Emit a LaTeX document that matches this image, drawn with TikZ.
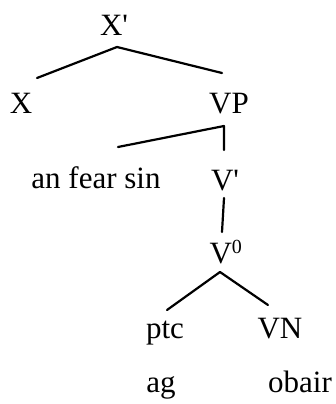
\documentclass[tikz,border=0pt]{standalone}
\usepackage{fontspec}
\setmainfont{Liberation Serif}
\usetikzlibrary{calc}
\tikzset{
  lab/.style={anchor=base, inner sep=0pt, font=\fontsize{31}{36}\selectfont},
  branch/.style={line width=2.2pt, line cap=round, line join=round}
}
\begin{document}
\begin{tikzpicture}[x=1pt,y=1pt]
\useasboundingbox (0,0) rectangle (335,-404);
\node[lab] (xbar) at (114,-36) {X\textquotesingle};
\node[lab] (x) at (21,-113) {X};
\node[lab] (vp) at (229,-113) {VP};
\node[lab] (afs) at (96,-188) {an fear sin};
\node[lab] (vbar) at (225,-190) {V\textquotesingle};
\node[lab] (v0) at (226,-263) {V\textsuperscript{\fontsize{20}{20}\selectfont 0}};
\node[lab] (ptc) at (165,-338) {ptc};
\node[lab] (vn) at (280,-338) {VN};
\node[lab] (ag) at (161,-392) {ag};
\node[lab] (obair) at (300,-392) {obair};
\draw[branch] ($(x.base)+(16,35)$) -- ($(xbar.base)+(3,-11)$) -- ($(vp.base)+(-7,40)$);
\draw[branch] ($(afs.base)+(22,41)$) -- ($(vp.base)+(-5,-13)$) -- ($(vbar.base)+(-1,40)$);
\draw[branch] ($(vbar.base)+(-1,-8)$) -- ($(v0.base)+(-4,31)$);
\draw[branch] ($(ptc.base)+(2,28)$) -- ($(v0.base)+(-6,-9)$) -- ($(vn.base)+(-12,33)$);
\end{tikzpicture}
\end{document}
